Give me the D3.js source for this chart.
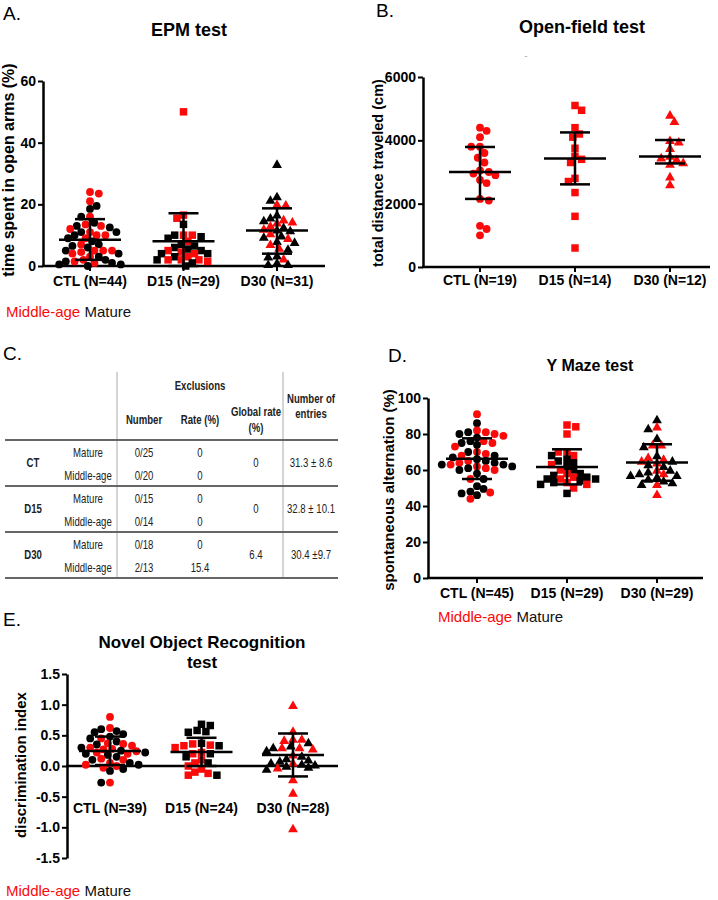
<!DOCTYPE html>
<html>
<head>
<meta charset="utf-8">
<script src="https://cdn.jsdelivr.net/npm/d3@7"></script>
<style>
  body { margin: 0; background: #fff; }
  svg { display: block; font-family: Arial, "Liberation Sans", sans-serif; }
</style>
</head>
<body>
<svg id="fig" width="718" height="900"></svg>
<script>
// ---- data ----
const epmCats = ['CTL (N=44)', 'D15 (N=29)', 'D30 (N=31)'];
const epmTicks = [0, 20, 40, 60];
const epmMiddle = [
  [24, 23.5, 21, 16, 13.5, 13, 12, 11, 10, 10, 9, 7, 5, 5, 5, 4.5, 4, 3, 2, 1.5, 1],
  [50, 16.5, 15.5, 10, 10, 8, 5, 4.5, 4, 3, 2, 2, 2, 1.5],
  [20, 19.8, 15, 14.3, 14, 13, 12, 10.5, 9, 7, 5.8, 2.3]
];
const epmMature = [
  [19.5, 18.5, 16, 14, 13, 12.5, 11, 11, 10, 9, 8, 7, 6.5, 6, 5, 4, 3, 2, 1.5, 1, 0.5, 0.5, 0],
  [13.5, 10, 9.5, 9, 7, 6.5, 6, 5.5, 5, 4, 4, 3, 2, 1, 0],
  [33, 22.5, 21.4, 16.6, 15.6, 14.7, 12.5, 11.7, 11.5, 9.8, 9.4, 8, 7.7, 5.5, 3.3, 3, 1, 0.5, 0.5]
];
const epmMean = [8.5, 8, 11.5];
const epmLow = [2, 0, 4];
const epmHigh = [15.2, 17.1, 18.7];

const ofCats = ['CTL (N=19)', 'D15 (N=14)', 'D30 (N=12)'];
const ofTicks = [0, 2000, 4000, 6000];
const ofMiddle = [
  [4400, 4300, 4100, 3800, 3800, 3600, 3450, 3300, 3050, 3000, 2950, 2900, 2750, 2650, 2150, 2100, 1300, 1200, 1000],
  [5100, 4950, 4400, 4200, 4100, 3750, 3500, 3400, 3300, 2800, 2700, 2350, 1600, 600],
  [4800, 4600, 4000, 3950, 3750, 3500, 3450, 3400, 3300, 3250, 2850, 2600]
];
const ofMature = [[], [], []];
const ofMean = [3000, 3430, 3490];
const ofLow = [2150, 2610, 3270];
const ofHigh = [3790, 4250, 4010];

const ymCats = ['CTL (N=45)', 'D15 (N=29)', 'D30 (N=29)'];
const ymTicks = [0, 20, 40, 60, 80, 100];
const ymMiddle = [
  [91, 82, 81, 80, 79, 76, 75, 73, 70, 69, 68, 65, 64, 63, 62, 61, 60, 55, 47.5, 44],
  [85, 84, 80, 70, 70, 68, 63, 60, 58, 56, 55, 53, 52, 50],
  [84, 74, 74, 67, 66, 65, 64, 60, 58, 52, 46.5]
];
const ymMature = [
  [86, 81, 80, 78, 76, 75, 74, 70, 68, 67, 66, 65, 64, 63, 63, 62, 61, 60, 58, 55, 51, 49.5, 48, 47, 46],
  [68, 66, 65, 64, 62, 60, 58, 57, 56, 55, 55, 54, 53, 52, 47],
  [88, 83, 77.6, 73, 68, 65, 63, 62, 60, 59, 58, 57, 57, 56, 55, 54, 53, 52]
];
const ymMean = [66.3, 61.7, 64.2];
const ymLow = [55, 52, 54];
const ymHigh = [77.6, 71.5, 74.3];

const norCats = ['CTL (N=39)', 'D15 (N=24)', 'D30 (N=28)'];
const norTicks = [-1.5, -1, -0.5, 0, 0.5, 1, 1.5];
const norMiddle = [
  [0.80, 0.62, 0.45, 0.37, 0.36, 0.33, 0.30, 0.28, 0.27, 0.24, 0.22, 0.20, 0.12, 0.10, 0.05, 0.02, 0.0, -0.03, -0.27],
  [0.36, 0.34, 0.33, 0.30, 0.22, 0.20, 0.10, 0.05, 0.0, -0.05, -0.10, -0.12, -0.15],
  [0.99, 0.57, 0.44, 0.44, 0.42, 0.30, 0.30, 0.28, 0.18, 0.05, -0.03, -0.22, -0.44, -1.02]
];
const norMature = [
  [0.60, 0.57, 0.55, 0.52, 0.48, 0.45, 0.40, 0.35, 0.30, 0.25, 0.22, 0.20, 0.18, 0.15, 0.10, 0.05, 0.02, -0.05, -0.08, -0.27],
  [0.68, 0.66, 0.58, 0.56, 0.55, 0.37, 0.33, 0.20, 0.15, 0.05, -0.15],
  [0.38, 0.33, 0.30, 0.25, 0.16, 0.12, 0.10, 0.08, 0.05, 0.03, 0.02, 0.0, -0.02, -0.05]
];
const norMean = [0.245, 0.23, 0.18];
const norLow = [0.016, 0, -0.17];
const norHigh = [0.48, 0.46, 0.53];

// table C
const tblGroups = ['CT', 'D15', 'D30'];
const tblAges = ['Mature', 'Middle-age'];
const tblNumber = [['0/25', '0/20'], ['0/15', '0/14'], ['0/18', '2/13']];
const tblRate = [['0', '0'], ['0', '0'], ['0', '15.4']];
const tblGlobal = ['0', '0', '6.4'];
const tblEntries = ['31.3 \u00b1 8.6', '32.8 \u00b1 10.1', '30.4 \u00b19.7'];

const RED = '#fb0a0a', BLACK = '#000';
const svg = d3.select('#fig');

// simple beeswarm so the dots spread like the prism scatter
function swarm(pts, y, cx) {
  const placed = [], step = 2.2, minD = 7;
  pts.slice().sort((a, b) => b.v - a.v).forEach((p, i) => {
    const py = y(p.v);
    const dir = i % 2 ? 1 : -1;
    for (let k = 0; k < 400; k++) {
      const off = k === 0 ? 0 : Math.ceil(k / 2) * step * (k % 2 ? dir : -dir);
      const px = cx + off;
      if (placed.every(q => Math.hypot(q.x - px, q.y - py) >= minD)) {
        placed.push({ v: p.v, age: p.age, x: px, y: py });
        break;
      }
    }
  });
  return placed;
}

function legend(x, y) {
  const t = svg.append('text').attr('x', x).attr('y', y).style('font-size', '15px');
  t.append('tspan').attr('fill', RED).text('Middle-age');
  t.append('tspan').attr('fill', '#111').text(' Mature');
}

function panel(p) {
  const g = svg.append('g');
  g.append('text').attr('x', p.letter[1]).attr('y', p.letter[2])
    .style('font-size', '19px').text(p.letter[0]);
  p.title.forEach((t, i) => {
    g.append('text').attr('x', p.tx).attr('y', p.ty + i * 20)
      .attr('text-anchor', 'middle').style('font-size', p.tSize + 'px').style('font-weight', 'bold').text(t);
  });

  const y = d3.scaleLinear().domain(p.domain).range([p.yBot, p.yTop]);
  const x = d3.scalePoint().domain(p.cats).range([p.c0, p.c2]);

  const ax = g.append('g').attr('transform', `translate(${p.x0},0)`)
    .call(d3.axisLeft(y).tickValues(p.ticks).tickFormat(p.fmt).tickSize(5).tickSizeOuter(0).tickPadding(2));
  ax.select('.domain').attr('stroke-width', 2.5);
  ax.selectAll('.tick line').attr('stroke-width', 2);
  ax.selectAll('.tick text').style('font-size', '14px').style('font-weight', 'bold')
    .attr('font-family', 'Arial, "Liberation Sans", sans-serif').attr('fill', '#000');

  // x axis line at zero
  g.append('line').attr('x1', p.x0 - 1).attr('x2', p.x1)
    .attr('y1', y(0)).attr('y2', y(0)).attr('stroke', '#000').attr('stroke-width', 2.5);
  if (p.catTicks) {
    g.selectAll('.ct').data(p.cats).join('line')
      .attr('x1', d => x(d)).attr('x2', d => x(d))
      .attr('y1', y(0)).attr('y2', y(0) + 5).attr('stroke', '#000').attr('stroke-width', 2);
  }
  g.selectAll('.cl').data(p.cats).join('text')
    .attr('x', d => x(d)).attr('y', p.catY).attr('text-anchor', 'middle')
    .style('font-size', '14px').style('font-weight', 'bold').text(d => d);

  g.append('text')
    .attr('transform', `translate(${p.ylx},${p.yly}) rotate(-90)`)
    .attr('text-anchor', 'middle').style('font-size', p.ylSize + 'px').style('font-weight', 'bold')
    .text(p.ylabel);

  const shapes = [d3.symbolCircle, d3.symbolSquare, d3.symbolTriangle];
  const sizes = [48, 56, 42];
  p.cats.forEach((c, i) => {
    const pts = p.mid[i].map(v => ({ v, age: 'mid' })).concat(p.mat[i].map(v => ({ v, age: 'mat' })));
    const placed = swarm(pts, y, x(c));
    const sym = d3.symbol().type(shapes[i]).size(sizes[i]);
    g.selectAll(null).data(placed).join('path')
      .attr('transform', d => `translate(${d.x},${d.y + (i === 2 ? 0.8 : 0)})`)
      .attr('d', sym)
      .attr('fill', d => d.age === 'mid' ? RED : BLACK);

    const cx = x(c);
    const bar = g.append('g').attr('stroke', '#000').attr('stroke-width', 2.5);
    bar.append('line').attr('x1', cx).attr('x2', cx).attr('y1', y(p.low[i])).attr('y2', y(p.high[i]));
    bar.append('line').attr('x1', cx - 31).attr('x2', cx + 31).attr('y1', y(p.mean[i])).attr('y2', y(p.mean[i]));
    [p.low[i], p.high[i]].forEach(v => {
      bar.append('line').attr('x1', cx - 15).attr('x2', cx + 15).attr('y1', y(v)).attr('y2', y(v));
    });
  });
}

panel({
  letter: ['A.', 3, 20], title: ['EPM test'], tx: 189, ty: 36, tSize: 18,
  x0: 43, x1: 325, c0: 90, c2: 277, yTop: 81, yBot: 266,
  domain: [0, 60], ticks: epmTicks, fmt: d3.format('d'),
  cats: epmCats, catY: 286, catTicks: true,
  ylabel: 'time spent in open arms (%)', ylx: 14, yly: 170, ylSize: 16,
  mid: epmMiddle, mat: epmMature, mean: epmMean, low: epmLow, high: epmHigh
});
legend(6, 317);

panel({
  letter: ['B.', 376, 17], title: ['Open-field test'], tx: 582, ty: 33, tSize: 18,
  x0: 423, x1: 710, c0: 480, c2: 670, yTop: 77, yBot: 267,
  domain: [0, 6000], ticks: ofTicks, fmt: d3.format('d'),
  cats: ofCats, catY: 285, catTicks: true,
  ylabel: 'total distance traveled (cm)', ylx: 383, yly: 173, ylSize: 14.5,
  mid: ofMiddle, mat: ofMature, mean: ofMean, low: ofLow, high: ofHigh
});
svg.append('text').attr('x', 526).attr('y', 59).attr('text-anchor', 'middle')
  .style('font-size', '9px').attr('fill', '#999').text('-');

panel({
  letter: ['D.', 388, 362], title: ['Y Maze test'], tx: 590, ty: 371, tSize: 16,
  x0: 428, x1: 703, c0: 477, c2: 657, yTop: 398, yBot: 578,
  domain: [0, 100], ticks: ymTicks, fmt: d3.format('d'),
  cats: ymCats, catY: 598, catTicks: true,
  ylabel: 'spontaneous alternation (%)', ylx: 394, yly: 490, ylSize: 15,
  mid: ymMiddle, mat: ymMature, mean: ymMean, low: ymLow, high: ymHigh
});
legend(438, 622);

panel({
  letter: ['E.', 3, 626], title: ['Novel Object Recognition', 'test'], tx: 202, ty: 648, tSize: 17,
  x0: 67, x1: 338, c0: 110, c2: 293, yTop: 674, yBot: 858,
  domain: [-1.5, 1.5], ticks: norTicks, fmt: d => d.toFixed(1),
  cats: norCats, catY: 813, catTicks: false,
  ylabel: 'discrimination index', ylx: 26, yly: 765, ylSize: 15,
  mid: norMiddle, mat: norMature, mean: norMean, low: norLow, high: norHigh
});
legend(6, 896);

// ---- panel C: exclusion table ----
svg.append('text').attr('x', 3).attr('y', 360).style('font-size', '19px').text('C.');
const tb = svg.append('g').style('font-size', '12px').attr('fill', '#222');
const colX = { grp: 33, age: 88, num: 144, rate: 200, glob: 256, ent: 311 };
// narrow face: squeeze the text horizontally like the Calibri original
function cell(x, y, t, bold) {
  tb.append('text').attr('transform', `translate(${x},${y}) scale(0.8,1)`)
    .attr('text-anchor', 'middle')
    .style('font-weight', bold ? 'bold' : 'normal').text(t);
}
cell(colX.rate, 390, 'Exclusions', true);
cell(colX.num, 424, 'Number', true);
cell(colX.rate, 424, 'Rate (%)', true);
cell(colX.glob, 416, 'Global rate', true);
cell(colX.glob, 432, '(%)', true);
cell(colX.ent, 403, 'Number of', true);
cell(colX.ent, 418, 'entries', true);

tb.selectAll('.v').data([117, 283]).join('line')
  .attr('x1', d => d).attr('x2', d => d).attr('y1', 372).attr('y2', 578)
  .attr('stroke', '#aaa').attr('stroke-width', 1);
const rowTop = 440, rowH = 46;
tb.selectAll('.h').data(d3.range(4)).join('line')
  .attr('x1', 5).attr('x2', 338)
  .attr('y1', d => rowTop + d * rowH).attr('y2', d => rowTop + d * rowH)
  .attr('stroke', '#666').attr('stroke-width', 2);

tblGroups.forEach((grp, gi) => {
  const top = rowTop + gi * rowH;
  cell(colX.grp, top + 27, grp, true);
  tblAges.forEach((age, ai) => {
    const yy = top + 17 + ai * 23;
    cell(colX.age, yy, age, false);
    cell(colX.num, yy, tblNumber[gi][ai], false);
    cell(colX.rate, yy, tblRate[gi][ai], false);
  });
  cell(colX.glob, top + 27, tblGlobal[gi], false);
  cell(colX.ent, top + 27, tblEntries[gi], false);
});
</script>
</body>
</html>
